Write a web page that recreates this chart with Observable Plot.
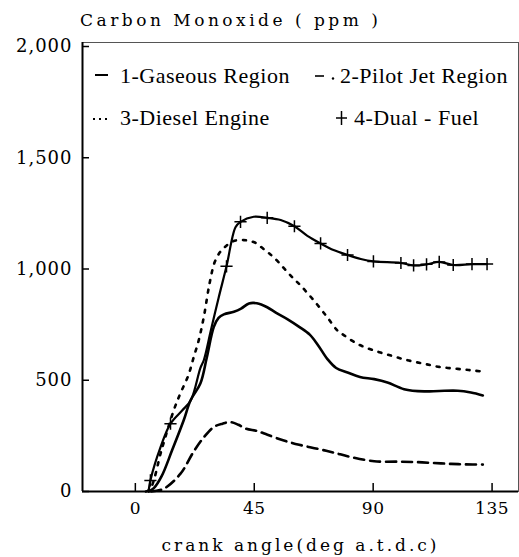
<!DOCTYPE html>
<html><head><meta charset="utf-8">
<script src="https://cdn.jsdelivr.net/npm/d3@7"></script>
<script src="https://cdn.jsdelivr.net/npm/@observablehq/plot@0.6"></script>
<style>
body{margin:0;background:#fff;}
#wrap{position:relative;width:519px;height:557px;overflow:hidden;background:#fff;}
#title{position:absolute;left:80px;top:12px;font-family:'DejaVu Serif',serif;font-size:17px;letter-spacing:3.5px;line-height:1;white-space:nowrap;color:#000;}
#chart{position:absolute;left:0;top:30px;}
#legend{position:absolute;left:0;top:0;}
</style></head>
<body><div id="wrap"><div id="title">Carbon Monoxide ( ppm )</div><div id="chart"></div><svg id="legend" width="519" height="140"></svg></div>
<script>
// ---- data (crank angle in deg a.t.d.c, CO in ppm) ----
const gasAngle = [5, 7, 10, 13.9, 18.3, 20.9, 24.6, 27, 29.7, 31.5, 33.5, 37.3, 40, 43, 46, 49.9, 53, 57.5, 62, 66, 69, 72.7, 76, 80.3, 85, 90.4, 95.4, 101.7, 109.3, 115, 122, 127, 131.5];
const gasCO    = [0, 15, 70, 185, 320, 410, 485, 600, 740, 780, 796, 808, 822, 845, 846, 828, 805, 775, 740, 705, 660, 595, 555, 535, 515, 505, 490, 460, 450, 452, 453, 445, 432];

const pilotAngle = [6, 10.7, 17.1, 22.1, 26, 29.7, 33, 36, 39, 42, 46, 50, 56.2, 62, 68.9, 75, 81.5, 90.4, 100, 106.8, 113, 119.5, 125, 131.5];
const pilotCO    = [0, 12, 80, 180, 245, 290, 305, 312, 300, 282, 272, 255, 229, 210, 192, 175, 155, 136, 134, 132, 128, 124, 122, 121];

const dieselAngle = [4, 5.7, 10, 14.5, 17, 20, 22, 24, 26, 28, 30, 32, 34, 37, 41, 45, 48.5, 52.4, 58.8, 62.6, 67.6, 72.7, 76.5, 79, 84.1, 90, 96.7, 103, 109.3, 115, 122, 127, 131.5];
const dieselCO    = [0, 13, 190, 364, 440, 520, 600, 680, 790, 930, 1030, 1075, 1100, 1125, 1130, 1120, 1090, 1052, 970, 925, 858, 782, 723, 702, 663, 635, 611, 590, 574, 560, 551, 545, 539];

const dualAngle  = [5, 5.7, 9.5, 13.3, 17.7, 21, 24.6, 25.9, 28.5, 31.5, 34.5, 37.9, 39.8, 44.8, 49.9, 55, 60.2, 65.1, 70.1, 75, 80.3, 85.3, 90.1, 100.5, 105.3, 110.2, 115, 120.3, 127.4, 133.1];
const dualCO     = [0, 50, 198, 305, 364, 410, 555, 590, 720, 870, 1012, 1188, 1212, 1235, 1230, 1220, 1192, 1149, 1115, 1085, 1063, 1045, 1034, 1027, 1016, 1021, 1032, 1018, 1022, 1022];
const dualMarker = [false, true, false, true, false, false, false, false, false, false, true, false, true, false, true, false, true, false, true, false, true, false, true, true, true, true, true, true, true, true];

const xTicks = [0, 45, 90, 135];
const yTicks = [0, 500, 1000, 1500, 2000];
const legendLabels = ["1-Gaseous Region", "2-Pilot Jet Region", "3-Diesel Engine", "4-Dual - Fuel"];

const toRows = (a, v) => a.map((d, i) => ({angle: d, co: v[i]}));
const gas = toRows(gasAngle, gasCO);
const pilot = toRows(pilotAngle, pilotCO);
const diesel = toRows(dieselAngle, dieselCO);
const dual = toRows(dualAngle, dualCO);
const dualMarks = dual.filter((d, i) => dualMarker[i]);

const xDomain = [-20, 145];
const yDomain = [0, 2018];

const plot = Plot.plot({
  width: 519, height: 527,
  marginLeft: 82, marginRight: 1, marginTop: 12, marginBottom: 66,
  x: {domain: xDomain},
  y: {domain: yDomain},
  style: {fontFamily: "'DejaVu Serif', serif", fontSize: "18px", color: "#000", background: "#fff", overflow: "visible"},
  marks: [
    Plot.frame({stroke: "#555", strokeWidth: 1}),
    Plot.ruleX([xDomain[0]], {stroke: "#000", strokeWidth: 2}),
    Plot.ruleY([yDomain[0]], {stroke: "#000", strokeWidth: 2}),
    Plot.axisY({ticks: yTicks, tickFormat: d3.format(","), tickSize: -7, tickPadding: 17, label: null, strokeWidth: 1.5}),
    Plot.axisX({ticks: xTicks, tickFormat: d => String(d), tickSize: -8, tickPadding: 18, strokeWidth: 1.5,
      label: "crank angle(deg a.t.d.c)", labelAnchor: "center", labelArrow: "none", labelOffset: 59, fontSize: 17}),
    Plot.line(gas, {x: "angle", y: "co", stroke: "#000", strokeWidth: 2.6, curve: "catmull-rom"}),
    Plot.line(pilot, {x: "angle", y: "co", stroke: "#000", strokeWidth: 2.6, strokeDasharray: "10,6", curve: "catmull-rom"}),
    Plot.line(diesel, {x: "angle", y: "co", stroke: "#000", strokeWidth: 2.6, strokeDasharray: "3,7", curve: "catmull-rom"}),
    Plot.line(dual, {x: "angle", y: "co", stroke: "#000", strokeWidth: 2.2, curve: "catmull-rom"}),
    Plot.dot(dualMarks, {x: "angle", y: "co", symbol: "plus", r: 4, stroke: "#000", strokeWidth: 1.5, fill: "none"})
  ]
});
document.getElementById("chart").appendChild(plot);
const P = d3.select(plot);
P.selectAll('g[aria-label="y-axis tick label"] text').style("letter-spacing", "1px");
P.selectAll('g[aria-label="x-axis tick label"] text').style("letter-spacing", "0.5px");
P.selectAll('g[aria-label="x-axis label"] text').style("letter-spacing", "3px").style("font-size", "17px");

// ---- legend overlay ----
const L = d3.select("#legend");
const txt = L.append("g").attr("font-family", "'Liberation Serif', 'Times New Roman', serif").attr("font-size", 22).attr("letter-spacing", "0.5px").attr("fill", "#000");
const pos = [[120, 83], [340, 83], [120, 125], [354, 125]];
legendLabels.forEach((t, i) => txt.append("text").attr("x", pos[i][0]).attr("y", pos[i][1]).text(t));
// swatches
L.append("line").attr("x1", 95).attr("x2", 108).attr("y1", 75).attr("y2", 75).attr("stroke", "#000").attr("stroke-width", 2);
L.append("line").attr("x1", 315).attr("x2", 324).attr("y1", 76).attr("y2", 76).attr("stroke", "#000").attr("stroke-width", 1.6);
L.append("circle").attr("cx", 333).attr("cy", 78.5).attr("r", 1.2).attr("fill", "#000");
L.append("line").attr("x1", 93).attr("x2", 109).attr("y1", 119).attr("y2", 119).attr("stroke", "#000").attr("stroke-width", 1.8).attr("stroke-dasharray", "2,4");
L.append("line").attr("x1", 336).attr("x2", 347).attr("y1", 118).attr("y2", 118).attr("stroke", "#000").attr("stroke-width", 1.5);
L.append("line").attr("x1", 341.5).attr("x2", 341.5).attr("y1", 111).attr("y2", 125).attr("stroke", "#000").attr("stroke-width", 1.5);
</script>
</body></html>
